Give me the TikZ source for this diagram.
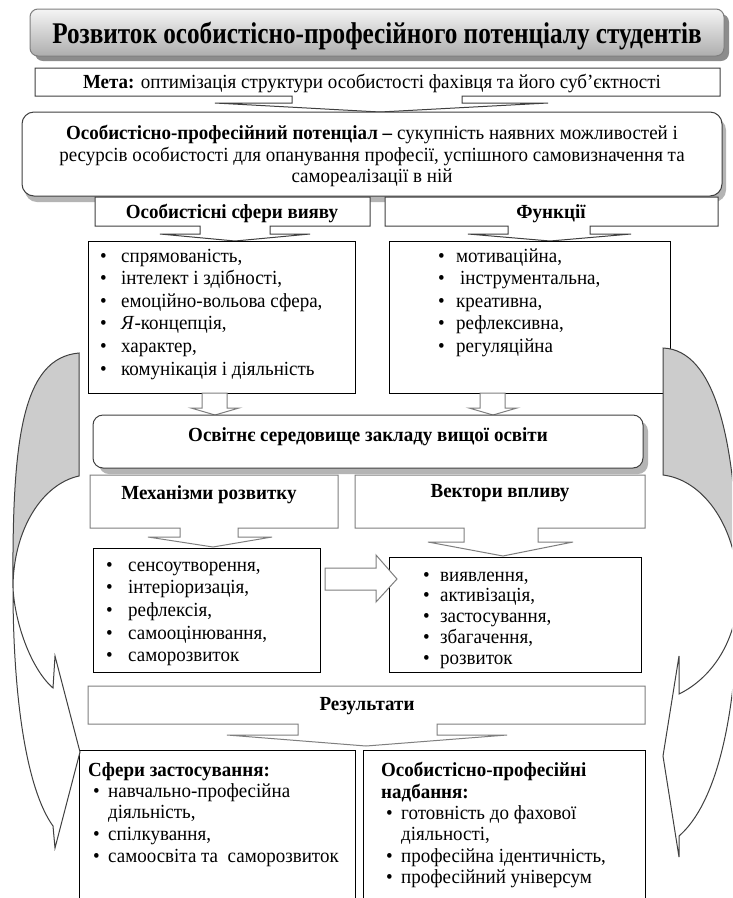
\documentclass[tikz,border=0pt]{standalone}
\usepackage{fontspec}
\setmainfont{Liberation Serif}[FakeStretch=0.95]
\newfontfamily\ttlfam{Liberation Serif}[FakeStretch=0.84]
\definecolor{edge}{HTML}{7F7F7F}
\definecolor{dark}{HTML}{404040}
\definecolor{shadowc}{HTML}{B4B4B4}
\definecolor{backc}{HTML}{CCCCCC}
\newcommand\fsz{\fontsize{20}{22.6}\selectfont}
\newcommand\ttlf{\ttlfam\fontsize{30}{32}\selectfont\bfseries}
\newcommand\bul[1]{\makebox[0pt][r]{\makebox[#1][l]{•}}}
\tikzset{
  bx/.style={draw=#1, line width=1pt, fill=white},
  bx/.default=black,
  txt/.style={inner sep=0pt, font=\fsz, anchor=base},
  lft/.style={inner sep=0pt, font=\fsz, anchor=base west},
  hd/.style={inner sep=0pt, font=\fsz\bfseries, anchor=base},
  hdl/.style={inner sep=0pt, font=\fsz\bfseries, anchor=base west},
  sidegray/.style={fill=backc, draw=dark, line width=1pt},
  sidewhite/.style={fill=white, draw=dark, line width=1pt},
}
\begin{document}
\begin{tikzpicture}[x=1pt,y=-1pt]
\useasboundingbox (0,0) rectangle (732,898);
\clip (0,0) rectangle (732,898);
\fill[white] (0,0) rectangle (732,898);

% title
\fill[black!45, rounded corners=8pt] (35,14) rectangle (729,61);
\shade[top color=black!4, bottom color=black!32, draw=edge, line width=1pt, rounded corners=8pt] (30,9) rectangle (724,56);
\node[inner sep=0pt, font=\ttlf, anchor=base] (title) at (377,43) {Розвиток особистісно-професійного потенціалу студентів};

% meta
\draw[bx=dark] (35,68) -- (720,68) -- (720,96) -- (462,96) -- (462,103) -- (548,103) -- (380,112) -- (215,103) -- (292,103) -- (292,96) -- (35,96) -- cycle;
\node[txt] (meta) at (372,88) {\textbf{Мета:} оптимізація структури особистості фахівця та його суб’єктності};

% potential
\fill[shadowc, rounded corners=12pt] (25,118) rectangle (726,202);
\draw[bx=dark, rounded corners=12pt] (22,112) rectangle (722,196);
\node[txt] (pot1) at (372,139) {\textbf{Особистісно-професійний потенціал –} сукупність наявних можливостей і};
\node[txt] (pot2) at (372,161) {ресурсів особистості для опанування професії, успішного самовизначення та};
\node[txt] (pot3) at (372,182) {самореалізації в ній};

% headers
\draw[bx=dark] (95,197) -- (370,197) -- (370,226) -- (270,226) -- (270,234) -- (310,234) -- (235,241) -- (160,234) -- (200,234) -- (200,226) -- (95,226) -- cycle;
\node[hd] (h1) at (232,218) {Особистісні сфери вияву};
\draw[bx=dark] (385,197) -- (718,197) -- (718,226) -- (590,226) -- (590,234) -- (631,234) -- (550,241) -- (468,234) -- (508,234) -- (508,226) -- (385,226) -- cycle;
\node[hd] (h2) at (551,218) {Функції};

% lists
\draw[bx] (88,241) rectangle (355,393);
\draw[bx] (389,241) rectangle (670,393);
\foreach \t [count=\i from 0] in {{спрямованість,},{інтелект і здібності,},{емоційно-вольова сфера,},{\textit{Я}-концепція,},{характер,},{комунікація і діяльність}}
  \node[lft] (sph\i) at (121,{262+22.6*\i}) {\bul{21pt}\t};
\foreach \t [count=\i from 0] in {{мотиваційна,},{\hspace{4pt}інструментальна,},{креативна,},{рефлексивна,},{регуляційна}}
  \node[lft] (fun\i) at (456,{262+22.6*\i}) {\bul{18pt}\t};

% down block arrows
\draw[bx=edge] (202,393) -- (227,393) -- (227,408) -- (239,408) -- (215,415) -- (191,408) -- (202,408) -- cycle;
\draw[bx=edge] (480,393) -- (505,393) -- (505,408) -- (517,408) -- (493,415) -- (469,408) -- (480,408) -- cycle;

% environment
\fill[shadowc, rounded corners=10pt] (99,421) rectangle (648,474);
\draw[bx=dark, rounded corners=10pt] (93,415) rectangle (643,468);
\node[hd] (env) at (368,441) {Освітнє середовище закладу вищої освіти};

% mechanisms
\draw[bx=edge] (90,475) -- (338,475) -- (338,528) -- (238,528) -- (238,537) -- (272,537) -- (213,547) -- (148,537) -- (180,537) -- (180,528) -- (90,528) -- cycle;
\node[hd] (mech) at (209,499) {Механізми розвитку};
% vectors
\draw[bx=edge] (355,475) -- (645,475) -- (645,528) -- (538,528) -- (538,542) -- (573,542) -- (503,556) -- (428,542) -- (464,542) -- (464,528) -- (355,528) -- cycle;
\node[hd] (vec) at (500,497) {Вектори впливу};

% second lists
\draw[bx] (93,548) rectangle (320,672);
\draw[bx] (389,557) rectangle (641,672);
\foreach \t [count=\i from 0] in {{сенсоутворення,},{інтеріоризація,},{рефлексія,},{самооцінювання,},{саморозвиток}}
  \node[lft] (mec\i) at (128,{571+22.7*\i}) {\bul{22pt}\t};
\foreach \t [count=\i from 0] in {{виявлення,},{активізація,},{застосування,},{збагачення,},{розвиток}}
  \node[lft] (vct\i) at (440,{581+20.8*\i}) {\bul{17pt}\t};
\draw[bx=edge] (325,568) -- (376,568) -- (376,555) -- (397,579) -- (376,602) -- (376,590) -- (325,590) -- cycle;

% results
\draw[bx=edge] (88,686) -- (645,686) -- (645,724) -- (437,724) -- (437,735) -- (507,735) -- (366,746) -- (227,735) -- (298,735) -- (298,724) -- (88,724) -- cycle;
\node[hd] (res) at (367,710) {Результати};

% bottom boxes
\draw[bx] (79,750) rectangle (355,910);
\draw[bx] (363,750) rectangle (645,910);
\node[hdl] (sfh) at (88,776) {Сфери застосування:};
\node[lft] (sf1) at (108,797) {\bul{15pt}навчально-професійна};
\node[lft] (sf2) at (108,818) {діяльність,};
\node[lft] (sf3) at (108,840) {\bul{15pt}спілкування,};
\node[lft] (sf4) at (108,862) {\bul{15pt}самоосвіта та \ саморозвиток};
\node[hdl] (nbh1) at (381,776) {Особистісно-професійні};
\node[hdl] (nbh2) at (381,798) {надбання:};
\node[lft] (nb1) at (401,819) {\bul{15pt}готовність до фахової};
\node[lft] (nb2) at (401,840) {діяльності,};
\node[lft] (nb3) at (401,862) {\bul{15pt}професійна ідентичність,};
\node[lft] (nb4) at (401,883) {\bul{15pt}професійний універсум};

% left curved arrow
\path[sidegray] (79,353) -- (79,476) .. controls (42,484) and (13,530) .. (13,588) .. controls (12,440) and (22,358) .. (79,353) -- cycle;
\path[sidewhite] (13,588) .. controls (15,625) and (32,670) .. (53,688) -- (55,656) -- (80,752) -- (55,848) -- (53,826) .. controls (27,790) and (13,700) .. (13,588) -- cycle;
% right curved arrow
\path[sidegray] (663,348) -- (663,475) .. controls (705,480) and (738,530) .. (738,590) .. controls (738,440) and (715,350) .. (663,348) -- cycle;
\path[sidewhite] (738,590) .. controls (738,640) and (712,678) .. (679,694) -- (679,656) -- (663,756) -- (679,857) -- (679,836) .. controls (715,805) and (738,720) .. (738,590) -- cycle;
\end{tikzpicture}
\end{document}
